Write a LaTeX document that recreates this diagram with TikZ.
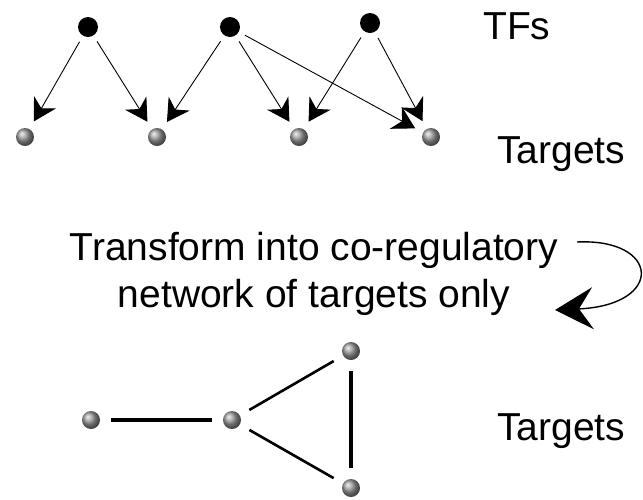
\documentclass[tikz,border=0pt]{standalone}
\usepackage{fontspec}
\setmainfont{Liberation Sans}
\usetikzlibrary{arrows.meta, positioning, shadings}
\tikzset{
  tf/.style     = {circle, fill=black, minimum size=20pt, inner sep=0pt, outer sep=7pt},
  tgt/.style    = {circle, shading=ball, ball color=gray!80, minimum size=18pt,
                   inner sep=0pt, outer sep=9pt},
  net/.style    = {circle, shading=ball, ball color=gray!80, minimum size=18pt,
                   inner sep=0pt, outer sep=11pt},
  arrow/.style  = {-{Stealth[length=22pt, width=25pt, inset=7pt]}, line width=0.9pt},
  link/.style   = {line width=3.4pt},
  lbl/.style    = {font=\fontsize{39}{47}\selectfont, inner sep=0pt},
}
\begin{document}
\begin{tikzpicture}[x=1pt, y=-1pt]
  \useasboundingbox (0,0) rectangle (643,499);
  % TFs and their targets
  \foreach \i/\x/\y in {1/88/27, 2/230/27, 3/370/23} {
    \node[tf] (t\i) at (\x,\y) {};
  }
  \foreach \i/\x in {1/25, 2/157, 3/299, 4/431} {
    \node[tgt] (g\i) at (\x,137) {};
  }
  \foreach \a/\b in {t1/g1, t1/g2, t2/g2, t2/g3, t2/g4, t3/g3, t3/g4} {
    \draw[arrow] (\a)--(\b);
  }
  \node[lbl, anchor=base west] (tflbl) at (483,39) {TFs};
  \node[lbl, anchor=base west] (tglbl) at (497,163) {Targets};
  % transformation
  \node[lbl, anchor=north, align=center] (trans) at (314,232)
    {Transform into co-regulatory\\network of targets only};
  \coordinate (cs) at (577,242);
  \coordinate (ce) at (555,310);
  \draw[line width=1.4pt, -{Stealth[length=38pt, width=42pt, inset=14pt]}]
    (cs) .. controls (660,238) and (665,305) .. (ce);
  % co-regulatory network
  \node[net] (n1) at (91,420) {};
  \node[net] (n2) at (232,420) {};
  \node[net] (n3) at (351,351) {};
  \node[net] (n4) at (351,488) {};
  \draw[link] (n1)--(n2);
  \draw[link] (n3)--(n4);
  \draw[line width=2.6pt] (n2)--(n3);
  \draw[line width=2.6pt] (n2)--(n4);
  \node[lbl, anchor=base west] (nlbl) at (497,440) {Targets};
\end{tikzpicture}
\end{document}
